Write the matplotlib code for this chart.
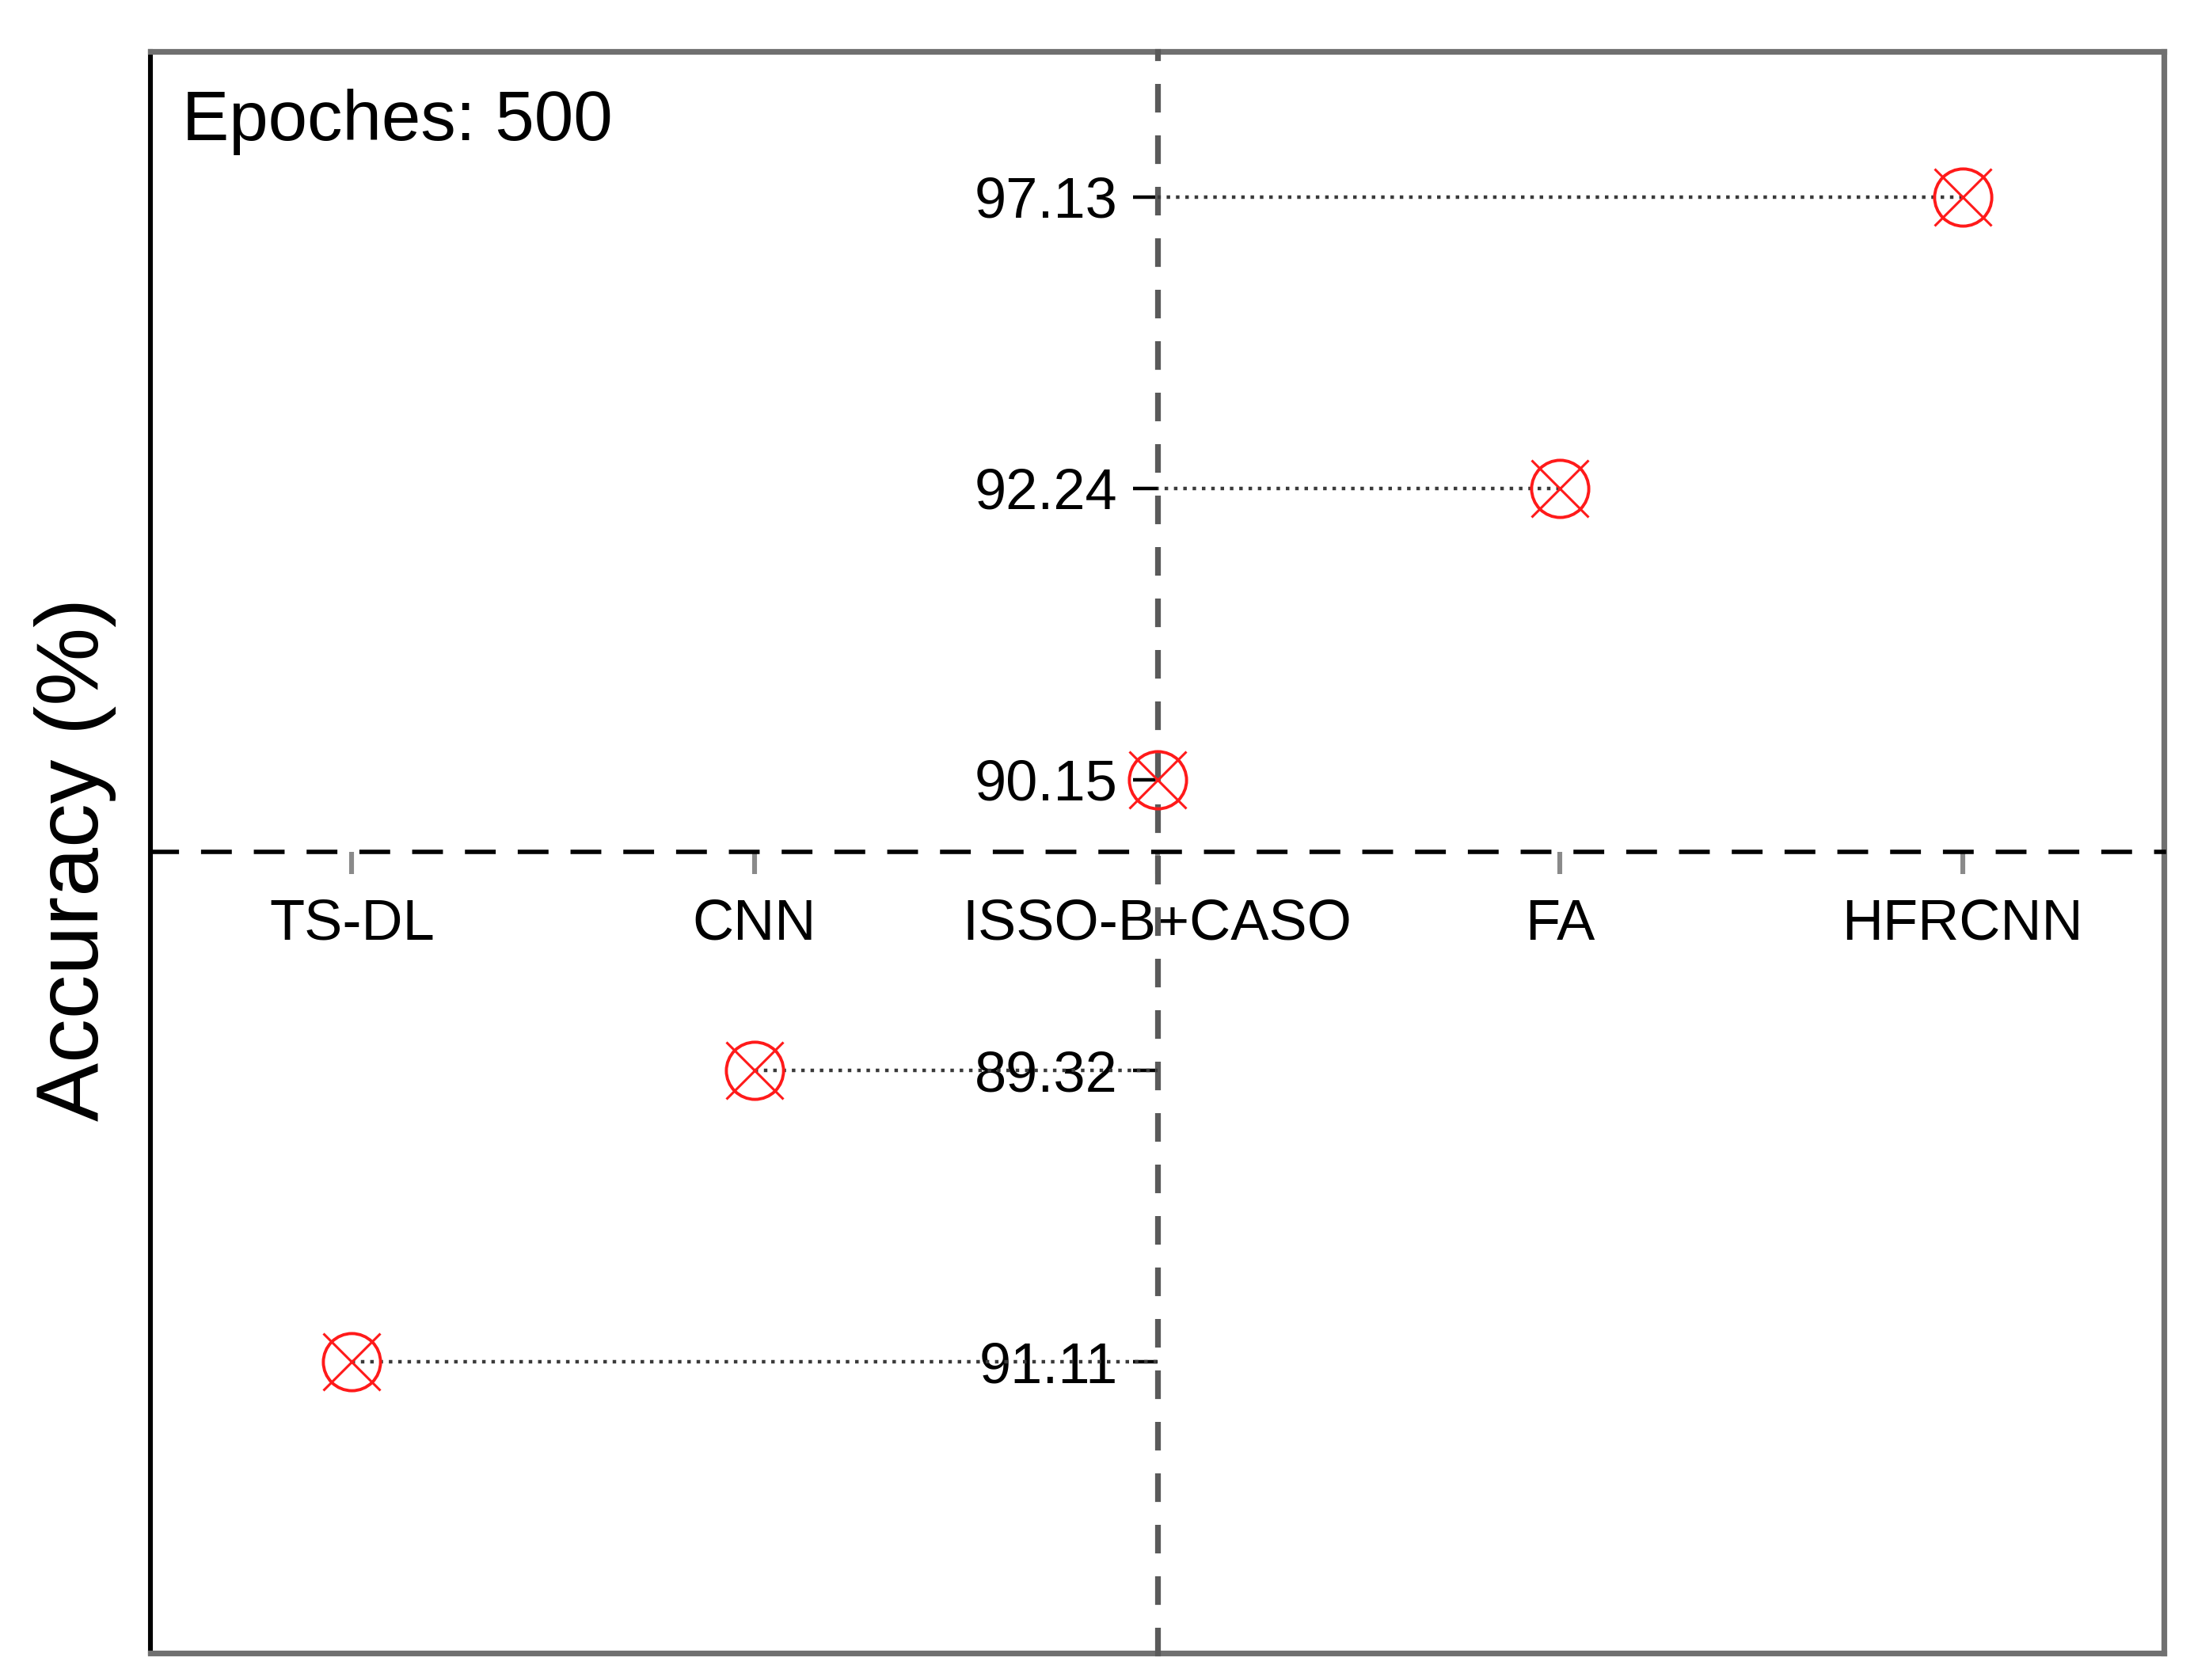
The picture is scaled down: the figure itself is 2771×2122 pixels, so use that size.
import matplotlib
matplotlib.use('Agg')
import matplotlib.pyplot as plt

# Data
methods = ['TS-DL', 'CNN', 'ISSO-B+CASO', 'FA', 'HFRCNN']
accuracy = ['91.11', '89.32', '90.15', '92.24', '97.13']   # shown as y tick labels
level = [-1.75, -0.75, 0.25, 1.25, 2.25]                    # plotted height (rank)
centre = 2                                                  # index of the vertical reference

plt.rcParams['font.family'] = ['Liberation Sans', 'DejaVu Sans']

fig = plt.figure(figsize=(13.855, 10.61), dpi=200)
rect = [0.0686, 0.016, 0.9177, 0.9534]

# outer box
frame = fig.add_axes(rect, zorder=0)
frame.set_xticks([]); frame.set_yticks([])
for side in ['top', 'right', 'bottom']:
    frame.spines[side].set_color('#707070')
    frame.spines[side].set_linewidth(2.6)
frame.spines['left'].set_color('black')
frame.spines['left'].set_linewidth(2.2)

# data axes with spines crossing in the middle
ax = fig.add_axes(rect, zorder=1)
ax.patch.set_alpha(0)
x = list(range(len(methods)))
ax.set_xlim(-0.5, len(methods) - 0.5)
ax.set_ylim(-2.75, 2.75)

ax.spines['top'].set_visible(False)
ax.spines['right'].set_visible(False)
ax.spines['left'].set_position(('data', centre))
ax.spines['left'].set_color('#5a5a5a')
ax.spines['left'].set_linewidth(2.6)
ax.spines['left'].set_linestyle((0, (4.0, 5.0)))
ax.spines['bottom'].set_position(('data', 0))
ax.spines['bottom'].set_color('black')
ax.spines['bottom'].set_linewidth(2.0)
ax.spines['bottom'].set_linestyle((0, (6.0, 6.0)))

ax.set_xticks(x)
ax.set_xticklabels(methods, fontsize=26)
ax.tick_params(axis='x', direction='out', length=10, width=2.2, color='#8a8a8a', pad=11)
ax.set_yticks(level)
ax.set_yticklabels(accuracy, fontsize=26)
ax.tick_params(axis='y', direction='out', length=11, width=1.6, color='black', pad=7)

# dotted connectors and markers
for xi, yi in zip(x, level):
    ax.plot([xi, centre], [yi, yi], linestyle=':', color='#3a3a3a', linewidth=1.6, zorder=3)
ax.plot(x, level, 'o', markersize=26, markerfacecolor='none', markeredgecolor='#ff1a1a',
        markeredgewidth=1.4, zorder=4, linestyle='none')
ax.plot(x, level, 'x', markersize=26, color='#ff1a1a', markeredgewidth=1.1, zorder=4,
        linestyle='none')

ax.text(0.0157, 0.9447, 'Epoches: 500', transform=ax.transAxes, fontsize=32,
        ha='left', va='baseline')
fig.text(0.0343, 0.4887, 'Accuracy (%)', rotation=90, fontsize=40, ha='center', va='center')

fig.savefig('out.png', dpi=200)
